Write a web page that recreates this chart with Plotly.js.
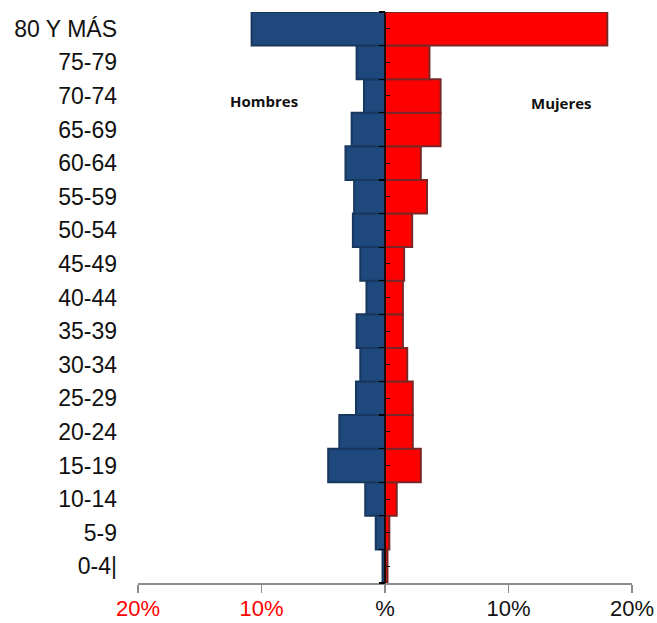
<!DOCTYPE html>
<html><head><meta charset="utf-8">
<script src="https://cdn.plot.ly/plotly-3.0.1.min.js"></script>
<style>html,body{margin:0;padding:0;background:#fff}</style>
</head><body><div id="chart" style="width:657px;height:623px"></div>
<script>
const ageGroups = ["0-4|","5-9","10-14","15-19","20-24","25-29","30-34","35-39","40-44","45-49","50-54","55-59","60-64","65-69","70-74","75-79","80 Y MÁS"];
const hombres = [0.2,0.75,1.6,4.6,3.7,2.35,2.0,2.3,1.5,2.0,2.6,2.5,3.2,2.7,1.7,2.3,10.8];
const mujeres = [0.2,0.35,0.95,2.9,2.25,2.25,1.8,1.45,1.45,1.55,2.2,3.4,2.9,4.5,4.5,3.6,18.0];
const xTickVals = [-20,-10,0,10,20];
const xTickText = ['<span style="color:#ff0000">20%</span>','<span style="color:#ff0000">10%</span>','%','10%','20%'];

const bounds = []; for(let i=0;i<=ageGroups.length;i++) bounds.push(i-0.5);
const centers = ageGroups.map((_,i)=>i);
const traces = [
  {type:'bar', orientation:'h', name:'Hombres', y:ageGroups, x:hombres.map(v=>-v),
   marker:{color:'#1f497d', line:{color:'#17375e', width:2}}, hoverinfo:'y+text', text:hombres.map(v=>v+'%'), textposition:'none'},
  {type:'bar', orientation:'h', name:'Mujeres', y:ageGroups, x:mujeres,
   marker:{color:'#ff0000', line:{color:'#7b2626', width:2}}, hoverinfo:'y+text', text:mujeres.map(v=>v+'%'), textposition:'none'},
  {type:'scatter', mode:'lines', x:[0,0], y:[bounds[0], bounds[bounds.length-1]], yaxis:'y2',
   line:{color:'#000', width:1.5}, hoverinfo:'skip', showlegend:false}
];
const layout = {
  width:657, height:623,
  margin:{l:138, r:25, t:12, b:40},
  paper_bgcolor:'#fff', plot_bgcolor:'#fff',
  showlegend:false,
  barmode:'overlay', bargap:0,
  xaxis:{range:[-20,20], tickvals:xTickVals, ticktext:xTickText, showgrid:false, zeroline:false,
    showline:true, linecolor:'#8c8c8c', linewidth:1.5, ticks:'outside', ticklen:8, tickcolor:'#8c8c8c', tickwidth:1.5,
    ticklabelstandoff:-3,
    tickfont:{family:'Liberation Sans, Arial, sans-serif', size:22, color:'#111'}, fixedrange:true},
  yaxis:{type:'category', categoryorder:'array', categoryarray:ageGroups, showgrid:false, zeroline:false, showline:false,
    ticks:'', ticklabelstandoff:20,
    tickfont:{family:'Liberation Sans, Arial, sans-serif', size:23, color:'#111'}, fixedrange:true},
  yaxis2:{overlaying:'y', anchor:'free', position:0.5, range:[bounds[0], bounds[bounds.length-1]], showgrid:false, zeroline:false,
    showline:false, tickvals:bounds, ticks:'outside', ticklen:6, tickcolor:'#000', tickwidth:1.2, showticklabels:false,
    minor:{tickvals:centers, ticks:'inside', ticklen:4, tickcolor:'#000', tickwidth:1}, layer:'above traces', fixedrange:true},
  annotations:[
    {x:-9.8, y:0.844, xref:'x', yref:'paper', yanchor:'middle', text:'<b>Hombres</b>', showarrow:false, font:{family:'Open Sans, sans-serif', size:15, color:'#111'}},
    {x:14.3, y:0.841, xref:'x', yref:'paper', yanchor:'middle', text:'<b>Mujeres</b>', showarrow:false, font:{family:'Open Sans, sans-serif', size:15, color:'#111'}}
  ]
};
Plotly.newPlot('chart', traces, layout, {displayModeBar:false, staticPlot:true});
</script></body></html>
